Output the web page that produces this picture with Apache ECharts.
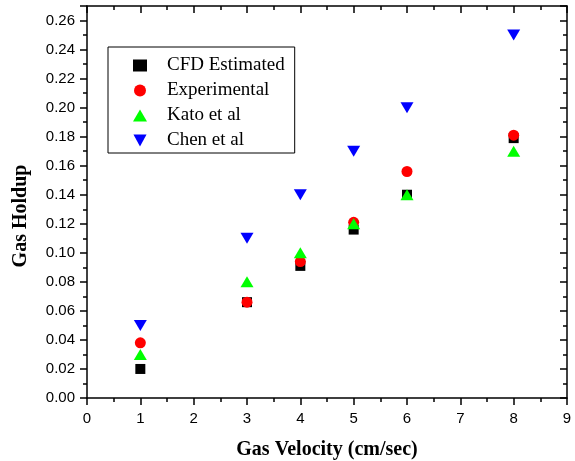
<!DOCTYPE html>
<html>
<head>
<meta charset="utf-8">
<script src="https://cdn.jsdelivr.net/npm/echarts@6/dist/echarts.min.js"></script>
<style>html,body{margin:0;padding:0;background:#fff;}#c{width:575px;height:461px;}</style>
</head>
<body>
<div id="c"></div>
<script>
var velocities = [1, 3, 4, 5, 6, 8];
var cfdEstimated = [0.020, 0.066, 0.091, 0.116, 0.140, 0.179];
var experimental = [0.038, 0.066, 0.094, 0.121, 0.156, 0.181];
var katoEtAl = [0.030, 0.080, 0.100, 0.120, 0.140, 0.170];
var chenEtAl = [0.050, 0.110, 0.140, 0.170, 0.200, 0.250];
var seriesNames = ['CFD Estimated', 'Experimental', 'Kato et al', 'Chen et al'];

function pairs(ys) { return velocities.map(function (x, i) { return [x, ys[i]]; }); }

var chart = echarts.init(document.getElementById('c'));
var axisLineStyle = { color: '#000', width: 1.5 };
var tickLabel = { color: '#000', fontFamily: 'Liberation Sans', fontSize: 15 };
var serif = 'Liberation Serif';
var minorTickStyle = { show: true, splitNumber: 2, length: 4, lineStyle: { color: '#000', width: 1.5 } };
chart.setOption({
  animation: false,
  backgroundColor: '#fff',
  grid: { left: 87, right: 8, top: 6, bottom: 63, containLabel: false, outerBoundsMode: 'none' },
  legend: {
    left: 108, top: 47, orient: 'vertical',
    borderColor: '#000', borderWidth: 1,
    padding: [9, 10, 3, 25],
    itemWidth: 14, itemHeight: 12, itemGap: 6,
    textStyle: { fontFamily: serif, fontSize: 19, color: '#000', padding: [0, 0, 0, 15] },
    data: seriesNames
  },
  xAxis: [{
    type: 'value', min: 0, max: 9, interval: 1, position: 'bottom',
    axisLine: { show: true, onZero: false, lineStyle: axisLineStyle },
    axisTick: { show: true, inside: false, length: 7, lineStyle: axisLineStyle },
    minorTick: minorTickStyle,
    axisLabel: Object.assign({ margin: 13 }, tickLabel),
    splitLine: { show: false },
    name: 'Gas Velocity (cm/sec)', nameLocation: 'middle', nameGap: 42,
    nameTextStyle: { fontFamily: serif, fontWeight: 'bold', fontSize: 20, color: '#000' }
  }, {
    type: 'value', min: 0, max: 9, interval: 1, position: 'top',
    axisLine: { show: true, onZero: false, lineStyle: axisLineStyle },
    axisTick: { show: true, inside: true, length: 7, lineStyle: axisLineStyle },
    minorTick: minorTickStyle,
    axisLabel: { show: false }, splitLine: { show: false }
  }],
  yAxis: [{
    type: 'value', min: 0, max: 0.27, interval: 0.02, position: 'left',
    axisLine: { show: true, onZero: false, lineStyle: axisLineStyle },
    axisTick: { show: true, inside: false, length: 7, lineStyle: axisLineStyle },
    minorTick: minorTickStyle,
    axisLabel: Object.assign({ margin: 12, showMaxLabel: false, formatter: function (v) { return v.toFixed(2); } }, tickLabel),
    splitLine: { show: false },
    name: 'Gas Holdup', nameLocation: 'middle', nameGap: 56, nameRotate: 90,
    nameTextStyle: { fontFamily: serif, fontWeight: 'bold', fontSize: 20, color: '#000', padding: [0, 28, 0, 0] }
  }, {
    type: 'value', min: 0, max: 0.27, interval: 0.02, position: 'right',
    axisLine: { show: true, onZero: false, lineStyle: axisLineStyle },
    axisTick: { show: true, inside: true, length: 7, lineStyle: axisLineStyle },
    minorTick: minorTickStyle,
    axisLabel: { show: false }, splitLine: { show: false }
  }],
  series: [
    { name: seriesNames[0], type: 'scatter', symbol: 'rect', symbolSize: 10, itemStyle: { color: '#000', opacity: 1 }, data: pairs(cfdEstimated) },
    { name: seriesNames[1], type: 'scatter', symbol: 'circle', symbolSize: 11, itemStyle: { color: '#ff0000', opacity: 1 }, data: pairs(experimental) },
    { name: seriesNames[2], type: 'scatter', symbol: 'triangle', symbolSize: [13, 11], itemStyle: { color: '#00ff00', opacity: 1 }, data: pairs(katoEtAl) },
    { name: seriesNames[3], type: 'scatter', symbol: 'path://M0,0 L12,0 L6,11 Z', symbolSize: [13, 11], itemStyle: { color: '#0000ff', opacity: 1 }, data: pairs(chenEtAl) },
    { name: 'frame', type: 'scatter', xAxisIndex: 1, yAxisIndex: 1, symbolSize: 0, silent: true, data: [[0, 0]] }
  ]
});
</script>
</body>
</html>
